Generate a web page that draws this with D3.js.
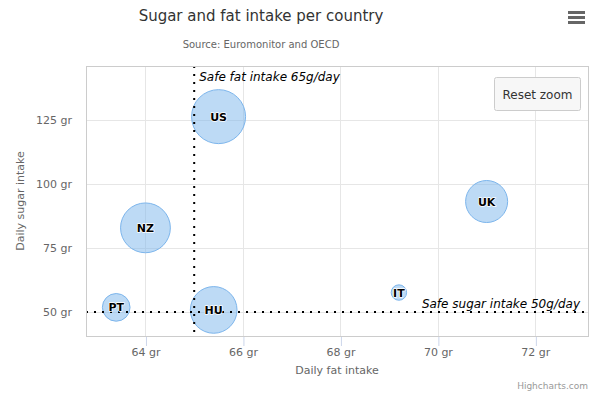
<!DOCTYPE html>
<html>
<head>
<meta charset="utf-8">
<script src="https://cdn.jsdelivr.net/npm/d3@7"></script>
<style>
  body { margin: 0; background: #fff; }
  svg { font-family: 'DejaVu Sans', sans-serif; display: block; }
</style>
</head>
<body>
<script>
// bubble data (fat, sugar, obesity %, country code)
var names = ['BE', 'DE', 'FI', 'NL', 'SE', 'ES', 'FR', 'NO', 'UK', 'IT', 'RU', 'US', 'HU', 'PT', 'NZ'];
var fat = [95, 86.5, 80.8, 80.4, 80.3, 78.4, 74.2, 73.5, 71, 69.2, 68.6, 65.5, 65.4, 63.4, 64];
var sugar = [95, 102.9, 91.5, 102.5, 86.1, 70.1, 68.5, 83.1, 93.2, 57.6, 20, 126.4, 50.8, 51.8, 82.9];
var obesity = [13.8, 14.7, 15.8, 12, 11.8, 16.6, 14.5, 10, 24.7, 10.4, 16, 35.3, 28.5, 15.4, 31.3];

var xTicks = [64, 66, 68, 70, 72];
var yTicks = [50, 75, 100, 125];
var safeFat = 65;
var safeSugar = 50;

var data = names.map(function (n, i) {
  return { name: n, x: fat[i], y: sugar[i], z: obesity[i] };
});

var svg = d3.select('body').append('svg').attr('width', 597).attr('height', 394);

var plotLeft = 86, plotRight = 588, plotTop = 66, plotBottom = 336;

// current zoomed extent
var x = d3.scaleLinear().domain([62.78, 73.08]).range([plotLeft, plotRight]);
var y = d3.scaleLinear().domain([40.6, 146.2]).range([plotBottom, plotTop]);

// bubble area grows linearly with z, outer diameter 15..55 px
var area = d3.scaleLinear()
  .domain(d3.extent(obesity))
  .range([15 * 15, 55 * 55]);
function radius(z) {
  return Math.sqrt(area(z)) / 2 - 0.5;
}

svg.append('text')
  .attr('x', 261).attr('y', 21)
  .attr('text-anchor', 'middle')
  .style('font-size', '15px')
  .attr('fill', '#333333')
  .text('Sugar and fat intake per country');

svg.append('text')
  .attr('x', 261).attr('y', 48)
  .attr('text-anchor', 'middle')
  .style('font-size', '10px')
  .attr('fill', '#666666')
  .text('Source: Euromonitor and OECD');

// menu icon
svg.append('g')
  .selectAll('rect')
  .data([0, 1, 2])
  .enter()
  .append('rect')
  .attr('x', 568).attr('y', function (d) { return 11 + d * 5; })
  .attr('width', 17).attr('height', 3)
  .attr('fill', '#666666');

// grid
svg.append('g')
  .selectAll('line')
  .data(xTicks)
  .enter()
  .append('line')
  .attr('x1', function (d) { return Math.round(x(d)) + 0.5; })
  .attr('x2', function (d) { return Math.round(x(d)) + 0.5; })
  .attr('y1', plotTop).attr('y2', plotBottom)
  .attr('stroke', '#e6e6e6');

svg.append('g')
  .selectAll('line')
  .data(yTicks)
  .enter()
  .append('line')
  .attr('y1', function (d) { return Math.round(y(d)) + 0.5; })
  .attr('y2', function (d) { return Math.round(y(d)) + 0.5; })
  .attr('x1', plotLeft).attr('x2', plotRight)
  .attr('stroke', '#e6e6e6');

// x axis ticks and labels
var xAxis = d3.axisBottom(x)
  .tickValues(xTicks)
  .tickSize(10)
  .tickPadding(2)
  .tickFormat(function (d) { return d + ' gr'; });

var gx = svg.append('g').attr('transform', 'translate(0,' + plotBottom + ')').call(xAxis);
gx.select('.domain').remove();
gx.selectAll('.tick line').attr('stroke', '#ccd6eb').attr('transform', 'translate(0.5,0)');
gx.selectAll('.tick text').attr('fill', '#666666').style('font-size', '11px').style('font-family', 'DejaVu Sans');

var yAxis = d3.axisLeft(y)
  .tickValues(yTicks)
  .tickSize(0)
  .tickPadding(14)
  .tickFormat(function (d) { return d + ' gr'; });

var gy = svg.append('g').attr('transform', 'translate(' + plotLeft + ',0)').call(yAxis);
gy.select('.domain').remove();
gy.selectAll('.tick text').attr('fill', '#666666').style('font-size', '11px').style('font-family', 'DejaVu Sans');

// axis titles
svg.append('text')
  .attr('x', (plotLeft + plotRight) / 2).attr('y', 374)
  .attr('text-anchor', 'middle')
  .style('font-size', '11px')
  .attr('fill', '#666666')
  .text('Daily fat intake');

svg.append('text')
  .attr('transform', 'translate(24,' + (plotTop + plotBottom) / 2 + ') rotate(-90)')
  .attr('text-anchor', 'middle')
  .style('font-size', '11px')
  .attr('fill', '#666666')
  .text('Daily sugar intake');

// bubbles
svg.append('clipPath').attr('id', 'plot-clip')
  .append('rect')
  .attr('x', plotLeft).attr('y', plotTop)
  .attr('width', plotRight - plotLeft).attr('height', plotBottom - plotTop);

var plot = svg.append('g').attr('clip-path', 'url(#plot-clip)');

plot.selectAll('circle')
  .data(data)
  .enter()
  .append('circle')
  .attr('cx', function (d) { return x(d.x); })
  .attr('cy', function (d) { return y(d.y); })
  .attr('r', function (d) { return radius(d.z); })
  .attr('fill', '#7cb5ec')
  .attr('fill-opacity', 0.5)
  .attr('stroke', '#7cb5ec')
  .attr('stroke-width', 1);

// plot lines
plot.append('line')
  .attr('x1', x(safeFat)).attr('x2', x(safeFat))
  .attr('y1', plotTop).attr('y2', plotBottom)
  .attr('stroke', '#000')
  .attr('stroke-width', 2)
  .attr('stroke-dasharray', '2,6');

plot.append('line')
  .attr('x1', plotLeft).attr('x2', plotRight)
  .attr('y1', y(safeSugar)).attr('y2', y(safeSugar))
  .attr('stroke', '#000')
  .attr('stroke-width', 2)
  .attr('stroke-dasharray', '2,6');

svg.append('text')
  .attr('x', x(safeFat) + 5).attr('y', plotTop + 15)
  .style('font-size', '12px')
  .style('font-style', 'italic')
  .attr('fill', '#000')
  .text('Safe fat intake ' + safeFat + 'g/day');

svg.append('text')
  .attr('x', plotRight - 8).attr('y', y(safeSugar) - 4)
  .attr('text-anchor', 'end')
  .style('font-size', '12px')
  .style('font-style', 'italic')
  .attr('fill', '#000')
  .text('Safe sugar intake ' + safeSugar + 'g/day');

// data labels, white halo behind black bold text
var visible = data.filter(function (d) {
  return x(d.x) > plotLeft && x(d.x) < plotRight && y(d.y) > plotTop && y(d.y) < plotBottom;
});

svg.append('g')
  .selectAll('text')
  .data(visible)
  .enter()
  .append('text')
  .attr('x', function (d) { return x(d.x); })
  .attr('y', function (d) { return y(d.y) + 4; })
  .attr('text-anchor', 'middle')
  .style('font-size', '11px')
  .style('font-weight', 'bold')
  .style('paint-order', 'stroke')
  .attr('stroke', '#fff')
  .attr('stroke-width', 1.5)
  .attr('stroke-linejoin', 'round')
  .attr('fill', '#000')
  .text(function (d) { return d.name; });

// plot border
svg.append('rect')
  .attr('x', plotLeft + 0.5).attr('y', plotTop + 0.5)
  .attr('width', plotRight - plotLeft).attr('height', plotBottom - plotTop)
  .attr('fill', 'none')
  .attr('stroke', '#cccccc');

// reset zoom button
var btn = svg.append('g').attr('transform', 'translate(494.5,77.5)');
btn.append('rect')
  .attr('width', 86).attr('height', 33)
  .attr('rx', 2)
  .attr('fill', '#f7f7f7')
  .attr('stroke', '#cccccc');
btn.append('text')
  .attr('x', 43).attr('y', 21)
  .attr('text-anchor', 'middle')
  .style('font-size', '12px')
  .attr('fill', '#333333')
  .text('Reset zoom');

svg.append('text')
  .attr('x', 588).attr('y', 389)
  .attr('text-anchor', 'end')
  .style('font-size', '9px')
  .attr('fill', '#999999')
  .text('Highcharts.com');
</script>
</body>
</html>
